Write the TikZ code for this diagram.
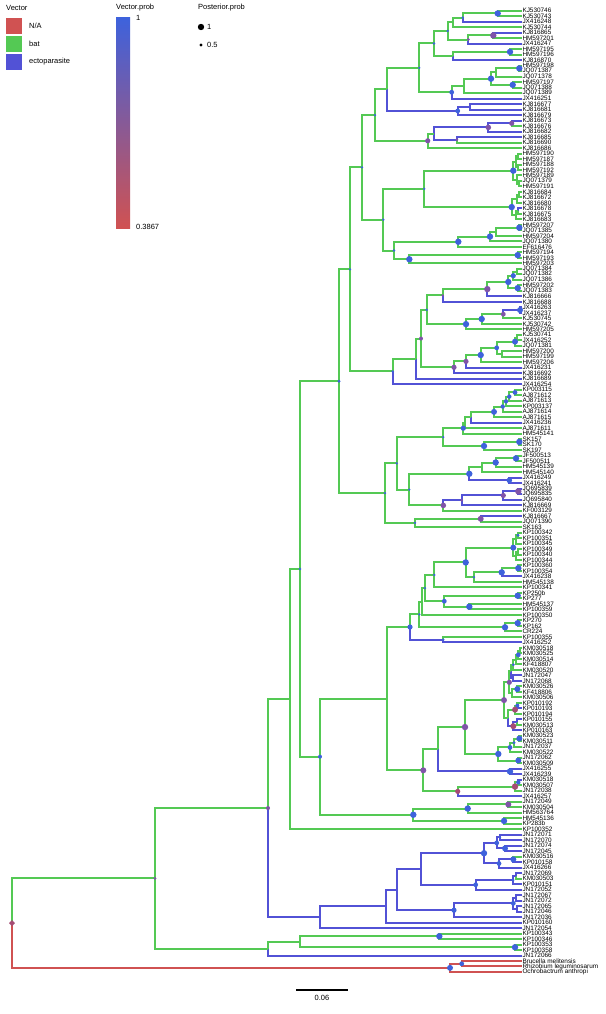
\documentclass[tikz,border=0pt]{standalone}
\usepackage{fontspec}
\setmainfont{Liberation Sans}
\usetikzlibrary{calc,shapes.geometric}
\definecolor{batcol}{RGB}{84,201,84}
\definecolor{ectocol}{RGB}{82,82,214}
\definecolor{nacol}{RGB}{208,82,82}
\definecolor{pblue}{RGB}{62,98,220}
\definecolor{ppurple}{RGB}{128,84,168}
\definecolor{pred}{RGB}{165,76,116}
\newcommand\tn[4]{\path let \p1=(#3), \p2=(#4) in coordinate (#1) at (#2pt,{0.5*\y1+0.5*\y2});}
\tikzset{
  br/.style={line width=2pt},
  bat/.style={br, draw=batcol},
  ecto/.style={br, draw=ectocol},
  na/.style={br, draw=nacol},
  leaf/.style={anchor=west, inner sep=0.6pt, font=\fontsize{6.4}{6.4}\selectfont},
  lg/.style={anchor=west, inner sep=0pt, font=\fontsize{7.5}{8}\selectfont}
}
\begin{document}
\begin{tikzpicture}[x=1pt,y=-1pt]
\useasboundingbox (0,0) rectangle (605,1014);
\fill[white] (0,0) rectangle (605,1014);
\foreach \t [count=\i] in {KJ530746,KJ530743,JX416248,KJ530744,KJ816865,HM597201,JX416247,HM597195,HM597196,KJ816870,
HM597198,JQ071387,JQ071378,HM597197,JQ071388,JQ071389,JX416251,KJ816677,KJ816681,KJ816679,
KJ816673,KJ816676,KJ816682,KJ816685,KJ816690,KJ816686,HM597190,HM597187,HM597188,HM597192,
HM597189,JQ071379,HM597191,KJ816684,KJ816672,KJ816680,KJ816678,KJ816675,KJ816683,HM597207,
JQ071385,HM597204,JQ071380,EF616476,HM597194,HM597193,HM597203,JQ071384,JQ071382,JQ071386,
HM597202,JQ071383,KJ816666,KJ816688,JX416263,JX416237,KJ530745,KJ530742,HM597205,KJ530741,
JX416252,JQ071381,HM597200,HM597199,HM597206,JX416231,KJ816692,KJ816689,JX416254,KP003115,
AJ871612,AJ871613,KP003137,AJ871614,AJ871615,JX416236,AJ871611,HM545141,SK157,SK170,
SK197,JF500513,JF500511,HM545139,HM545140,JX416249,JX416241,JQ695839,JQ695835,JQ695840,
KJ816669,KF003129,KJ816667,JQ071390,SK163,KP100342,KP100351,KP100345,KP100349,KP100340,
KP100344,KP100360,KP100354,JX416238,HM545138,KP100341,KP250b,KP277,HM545137,KP100359,
KP100350,KP270,KP162,CR224,KP100355,JX416252,KM030518,KM030525,KM030514,KF418807,
KM030520,JN172047,JN172068,KM030526,KF418806,KM030506,KP010192,KP010193,KP010194,KP010155,
KM030513,KP010163,KM030523,KM030511,JN172037,KM030522,JN172062,KM030509,JX416255,JX416239,
KM030518,KM030507,JN172038,JX416257,JN172049,KM030504,HM563764,HM545136,KP283b,KP100352,
JN172071,JN172070,JN172074,JN172045,KM030516,KP010158,JX416266,JN172069,KM030503,KP010151,
JN172052,JN172067,JN172072,JN172065,JN172046,JN172036,KP010160,JN172054,KP100343,KP100346,
KP100353,KP100358,JN172066,Brucella melitensis,Rhizobium leguminosarum,Ochrobactrum anthropi}
  \node[leaf] (L\i) at (521.7,{10.7+(\i-1)*5.493}) {\t};
\tn{a1}{497.7}{L1}{L2}
\tn{a2}{462.7}{a1}{L3}
\tn{a3}{453.3}{a2}{L4}
\tn{a4}{493.3}{L5}{L6}
\tn{a5}{468.3}{a4}{L7}
\tn{a6}{447.7}{a3}{a5}
\tn{a7}{510}{L8}{L9}
\tn{a8}{453.3}{a7}{L10}
\tn{a9}{434}{a6}{a8}
\tn{a10}{519.3}{L11}{L12}
\tn{a11}{496}{a10}{L13}
\tn{a12}{512.7}{L14}{L15}
\tn{a13}{491}{a11}{a12}
\tn{a14}{464.3}{a13}{L16}
\tn{a15}{451.7}{a14}{L17}
\tn{a16}{419.3}{a9}{a15}
\tn{a17}{470}{L18}{L19}
\tn{a18}{457.7}{a17}{L20}
\tn{a19}{387}{a16}{a18}
\tn{b1}{511.7}{L21}{L22}
\tn{b2}{488.3}{b1}{L23}
\tn{b3}{456.7}{L24}{L25}
\tn{b4}{434.3}{b2}{b3}
\tn{b5}{427.7}{b4}{L26}
\tn{c1}{518}{L27}{L28}
\tn{c2}{518}{L29}{L30}
\tn{c3}{516}{c1}{c2}
\tn{c4}{519}{L32}{L33}
\tn{c5}{516.5}{L31}{c4}
\tn{c6}{513.3}{c3}{c5}
\tn{c7}{519}{L34}{L35}
\tn{c8}{517}{c7}{L36}
\tn{c9}{518}{L37}{L38}
\tn{c10}{516}{c9}{L39}
\tn{c11}{511.7}{c8}{c10}
\tn{c12}{424.3}{c6}{c11}
\tn{c13}{519.3}{L40}{L41}
\tn{c14}{496}{c13}{L42}
\tn{c15}{490}{c14}{L43}
\tn{c16}{458.3}{c15}{L44}
\tn{c17}{517.7}{L45}{L46}
\tn{c18}{409.3}{c17}{L47}
\tn{c19}{394}{c16}{c18}
\tn{c20}{383.3}{c12}{c19}
\tn{d1}{517}{L48}{L49}
\tn{d2}{513.3}{d1}{L50}
\tn{d3}{517.7}{L51}{L52}
\tn{d4}{508.3}{d2}{d3}
\tn{d5}{487.3}{d4}{L53}
\tn{d6}{442.7}{d5}{L54}
\tn{d7}{520}{L55}{L56}
\tn{d8}{503.3}{d7}{L57}
\tn{d9}{481.7}{d8}{L58}
\tn{d10}{466}{d9}{L59}
\tn{d11}{426.7}{d6}{d10}
\tn{d12}{517}{L60}{L61}
\tn{d13}{515}{d12}{L62}
\tn{d14}{501.7}{L63}{L64}
\tn{d15}{496.7}{d13}{d14}
\tn{d16}{480.7}{d15}{L65}
\tn{d17}{466}{d16}{L66}
\tn{d18}{454}{d17}{L67}
\tn{d19}{421}{d11}{d18}
\tn{d20}{416}{d19}{L68}
\tn{d21}{392.7}{d20}{L69}
\tn{e1}{515}{L70}{L71}
\tn{e2}{509.3}{e1}{L72}
\tn{e3}{506}{e2}{L73}
\tn{e4}{502.7}{e3}{L74}
\tn{e5}{494}{e4}{L75}
\tn{e6}{470.7}{e5}{L76}
\tn{e7}{465}{e6}{L77}
\tn{e8}{463.3}{e7}{L78}
\tn{e9}{519.3}{L79}{L80}
\tn{e10}{484}{e9}{L81}
\tn{e11}{443.3}{e8}{e10}
\tn{e12}{516}{L82}{L83}
\tn{e13}{495.7}{e12}{L84}
\tn{e14}{481.7}{e13}{L85}
\tn{e15}{509.3}{L86}{L87}
\tn{e16}{469.3}{e14}{e15}
\tn{e17}{518.3}{L88}{L89}
\tn{e18}{503.3}{e17}{L90}
\tn{e19}{461.7}{e18}{L91}
\tn{e20}{443.3}{e19}{L92}
\tn{e21}{409.3}{e16}{e20}
\tn{e22}{396.7}{e11}{e21}
\tn{e23}{480.7}{L93}{L94}
\tn{e24}{415}{e23}{L95}
\tn{e25}{385}{e22}{e24}
\tn{f1}{518}{L96}{L97}
\tn{f2}{515.5}{f1}{L98}
\tn{f3}{518}{L99}{L100}
\tn{f4}{515.5}{f3}{L101}
\tn{f5}{513.3}{f2}{f4}
\tn{f6}{518.3}{L102}{L103}
\tn{f7}{501.7}{f6}{L104}
\tn{f8}{474}{f7}{L105}
\tn{f9}{465.7}{f5}{f8}
\tn{f10}{434.3}{f9}{L106}
\tn{f11}{517.7}{L107}{L108}
\tn{f12}{469.3}{L109}{L110}
\tn{f13}{444.3}{f11}{f12}
\tn{f14}{425}{f10}{f13}
\tn{f15}{421.5}{f14}{L111}
\tn{f16}{517.7}{L112}{L113}
\tn{f17}{505}{f16}{L114}
\tn{f18}{419.3}{f15}{f17}
\tn{f19}{443.3}{L115}{L116}
\tn{f20}{410}{f18}{f19}
\tn{g1}{520}{L117}{L118}
\tn{g2}{518.3}{g1}{L119}
\tn{g3}{516}{g2}{L120}
\tn{g4}{513.3}{g3}{L121}
\tn{g5}{513.3}{L122}{L123}
\tn{g6}{511}{g4}{g5}
\tn{g7}{517.3}{L124}{L125}
\tn{g8}{512}{g7}{L126}
\tn{g9}{509.3}{g6}{g8}
\tn{g10}{517.3}{L127}{L128}
\tn{g11}{515}{g10}{L129}
\tn{g12}{517}{L130}{L131}
\tn{g13}{513.3}{g12}{L132}
\tn{g14}{508.3}{g11}{g13}
\tn{g15}{504}{g9}{g14}
\tn{g16}{519.3}{L133}{L134}
\tn{g17}{514}{g16}{L135}
\tn{g18}{510}{g17}{L136}
\tn{g19}{518.3}{L137}{L138}
\tn{g20}{498.3}{g18}{g19}
\tn{g21}{465}{g15}{g20}
\tn{g22}{510}{L139}{L140}
\tn{g23}{438.3}{g21}{g22}
\tn{g24}{518.3}{L141}{L142}
\tn{g25}{515}{g24}{L143}
\tn{g26}{457.7}{g25}{L144}
\tn{g27}{423.3}{g23}{g26}
\tn{g28}{386.7}{f20}{g27}
\tn{h1}{508.3}{L145}{L146}
\tn{h2}{467.7}{h1}{L147}
\tn{h3}{504}{L148}{L149}
\tn{h4}{413.3}{h2}{h3}
\tn{i1}{500}{L151}{L152}
\tn{i2}{505}{L153}{L154}
\tn{i3}{496.7}{i1}{i2}
\tn{i4}{513.3}{L155}{L156}
\tn{i5}{499}{i4}{L157}
\tn{i6}{484}{i3}{i5}
\tn{i7}{516}{L158}{L159}
\tn{i8}{513}{i7}{L160}
\tn{i9}{475.7}{i8}{L161}
\tn{i10}{421}{i6}{i9}
\tn{i11}{516}{L162}{L163}
\tn{i12}{517}{L164}{L165}
\tn{i13}{513.3}{i11}{i12}
\tn{i14}{454}{i13}{L166}
\tn{i15}{397.3}{i10}{i14}
\tn{i16}{386}{i15}{L167}
\tn{j1}{439.3}{L169}{L170}
\tn{j2}{515}{L171}{L172}
\tn{k1}{461.7}{L174}{L175}
\tn{k2}{450}{k1}{L176}
\tn{s1}{375}{a19}{b5}
\tn{s2}{362}{s1}{c20}
\tn{s3}{350}{s2}{d21}
\tn{s4}{339}{s3}{e25}
\tn{s5}{320}{g28}{h4}
\tn{s6}{300}{s4}{s5}
\tn{s7}{290}{s6}{L150}
\tn{s8}{320}{i16}{L168}
\tn{s9}{268}{s7}{s8}
\tn{s10}{300}{j1}{j2}
\tn{s12}{268}{s10}{L173}
\tn{s11}{155}{s9}{s12}
\tn{root}{12}{s11}{k2}
\foreach \p/\c/\s in {a1/L1/bat,a1/L2/bat,a2/a1/bat,a2/L3/ecto,a3/a2/bat,a3/L4/bat,a4/L5/ecto,a4/L6/bat,
  a5/a4/bat,a5/L7/ecto,a6/a3/bat,a6/a5/bat,a7/L8/bat,a7/L9/bat,a8/a7/bat,a8/L10/ecto,a9/a6/bat,a9/a8/bat,
  a10/L11/bat,a10/L12/bat,a11/a10/bat,a11/L13/bat,a12/L14/bat,a12/L15/bat,a13/a11/bat,a13/a12/bat,
  a14/a13/bat,a14/L16/bat,a15/a14/bat,a15/L17/ecto,a16/a9/bat,a16/a15/bat,a17/L18/ecto,a17/L19/ecto,
  a18/a17/ecto,a18/L20/ecto,a19/a16/bat,a19/a18/ecto,
  b1/L21/ecto,b1/L22/bat,b2/b1/ecto,b2/L23/ecto,b3/L24/ecto,b3/L25/bat,b4/b2/ecto,b4/b3/ecto,b5/b4/bat,b5/L26/bat,
  c1/L27/bat,c1/L28/bat,c2/L29/bat,c2/L30/bat,c3/c1/bat,c3/c2/bat,c4/L32/bat,c4/L33/bat,c5/L31/bat,c5/c4/bat,
  c6/c3/bat,c6/c5/bat,c7/L34/bat,c7/L35/bat,c8/c7/bat,c8/L36/bat,c9/L37/ecto,c9/L38/bat,c10/c9/bat,c10/L39/bat,
  c11/c8/bat,c11/c10/bat,c12/c6/bat,c12/c11/bat,c13/L40/bat,c13/L41/bat,c14/c13/bat,c14/L42/bat,c15/c14/bat,
  c15/L43/bat,c16/c15/bat,c16/L44/bat,c17/L45/bat,c17/L46/bat,c18/c17/bat,c18/L47/bat,c19/c16/bat,c19/c18/bat,
  c20/c12/bat,c20/c19/bat,
  d1/L48/bat,d1/L49/bat,d2/d1/bat,d2/L50/bat,d3/L51/bat,d3/L52/bat,d4/d2/bat,d4/d3/bat,d5/d4/bat,d5/L53/ecto,
  d6/d5/bat,d6/L54/ecto,d7/L55/ecto,d7/L56/ecto,d8/d7/ecto,d8/L57/bat,d9/d8/bat,d9/L58/bat,d10/d9/bat,
  d10/L59/bat,d11/d6/bat,d11/d10/bat,d12/L60/bat,d12/L61/bat,d13/d12/bat,d13/L62/bat,d14/L63/bat,d14/L64/bat,
  d15/d13/bat,d15/d14/bat,d16/d15/bat,d16/L65/bat,d17/d16/bat,d17/L66/ecto,d18/d17/bat,d18/L67/ecto,
  d19/d11/bat,d19/d18/bat,d20/d19/bat,d20/L68/ecto,d21/d20/bat,d21/L69/ecto,
  e1/L70/bat,e1/L71/bat,e2/e1/bat,e2/L72/bat,e3/e2/bat,e3/L73/bat,e4/e3/bat,e4/L74/bat,e5/e4/bat,e5/L75/bat,
  e6/e5/bat,e6/L76/ecto,e7/e6/bat,e7/L77/bat,e8/e7/bat,e8/L78/bat,e9/L79/bat,e9/L80/bat,e10/e9/bat,e10/L81/bat,
  e11/e8/bat,e11/e10/bat,e12/L82/bat,e12/L83/bat,e13/e12/bat,e13/L84/bat,e14/e13/bat,e14/L85/bat,
  e15/L86/ecto,e15/L87/ecto,e16/e14/bat,e16/e15/ecto,e17/L88/ecto,e17/L89/ecto,e18/e17/ecto,e18/L90/ecto,
  e19/e18/ecto,e19/L91/ecto,e20/e19/ecto,e20/L92/bat,e21/e16/bat,e21/e20/bat,e22/e11/bat,e22/e21/bat,
  e23/L93/ecto,e23/L94/bat,e24/e23/bat,e24/L95/bat,e25/e22/bat,e25/e24/bat,
  f1/L96/bat,f1/L97/bat,f2/f1/bat,f2/L98/bat,f3/L99/bat,f3/L100/bat,f4/f3/bat,f4/L101/bat,f5/f2/bat,f5/f4/bat,
  f6/L102/bat,f6/L103/bat,f7/f6/bat,f7/L104/ecto,f8/f7/bat,f8/L105/bat,f9/f5/bat,f9/f8/bat,f10/f9/bat,
  f10/L106/bat,f11/L107/bat,f11/L108/bat,f12/L109/bat,f12/L110/bat,f13/f11/bat,f13/f12/bat,f14/f10/bat,
  f14/f13/bat,f15/f14/bat,f15/L111/bat,f16/L112/bat,f16/L113/bat,f17/f16/bat,f17/L114/bat,f18/f15/bat,
  f18/f17/bat,f19/L115/bat,f19/L116/ecto,f20/f18/bat,f20/f19/ecto,
  g1/L117/bat,g1/L118/bat,g2/g1/bat,g2/L119/bat,g3/g2/bat,g3/L120/bat,g4/g3/bat,g4/L121/bat,g5/L122/ecto,
  g5/L123/ecto,g6/g4/bat,g6/g5/ecto,g7/L124/bat,g7/L125/bat,g8/g7/bat,g8/L126/bat,g9/g6/bat,g9/g8/bat,
  g10/L127/bat,g10/L128/ecto,g11/g10/bat,g11/L129/bat,g12/L130/ecto,g12/L131/bat,g13/g12/ecto,g13/L132/ecto,
  g14/g11/bat,g14/g13/ecto,g15/g9/bat,g15/g14/bat,g16/L133/bat,g16/L134/bat,g17/g16/bat,g17/L135/bat,
  g18/g17/bat,g18/L136/bat,g19/L137/bat,g19/L138/bat,g20/g18/bat,g20/g19/bat,g21/g15/bat,g21/g20/bat,
  g22/L139/ecto,g22/L140/ecto,g23/g21/bat,g23/g22/ecto,g24/L141/ecto,g24/L142/bat,g25/g24/bat,g25/L143/bat,
  g26/g25/bat,g26/L144/ecto,g27/g23/bat,g27/g26/bat,g28/f20/bat,g28/g27/bat,
  h1/L145/bat,h1/L146/bat,h2/h1/bat,h2/L147/bat,h3/L148/bat,h3/L149/bat,h4/h2/bat,h4/h3/bat,
  i1/L151/ecto,i1/L152/ecto,i2/L153/ecto,i2/L154/ecto,i3/i1/ecto,i3/i2/ecto,i4/L155/bat,i4/L156/ecto,
  i5/i4/ecto,i5/L157/ecto,i6/i3/ecto,i6/i5/ecto,i7/L158/ecto,i7/L159/bat,i8/i7/ecto,i8/L160/ecto,i9/i8/ecto,
  i9/L161/ecto,i10/i6/ecto,i10/i9/ecto,i11/L162/ecto,i11/L163/ecto,i12/L164/ecto,i12/L165/ecto,i13/i11/ecto,
  i13/i12/ecto,i14/i13/ecto,i14/L166/ecto,i15/i10/ecto,i15/i14/ecto,i16/i15/ecto,i16/L167/ecto,
  j1/L169/bat,j1/L170/bat,j2/L171/bat,j2/L172/bat,k1/L174/na,k1/L175/na,k2/k1/na,k2/L176/na,
  s1/a19/bat,s1/b5/bat,s2/s1/bat,s2/c20/bat,s3/s2/bat,s3/d21/bat,s4/s3/bat,s4/e25/bat,s5/g28/bat,s5/h4/bat,
  s6/s4/bat,s6/s5/bat,s7/s6/bat,s7/L150/bat,s8/i16/ecto,s8/L168/ecto,s9/s7/bat,s9/s8/ecto,s10/j1/bat,
  s10/j2/bat,s12/s10/bat,s12/L173/ecto,s11/s9/bat,s11/s12/bat,root/s11/bat,root/k2/na}
  \draw[\s] (\p) |- (\c);
\foreach \n/\r/\c in {a1/3.2/pblue,a2/1.3/pblue,a4/3.2/ppurple,a5/1.5/ppurple,a6/1.3/pblue,a7/3.2/pblue,
  a9/1.3/pblue,a10/3.2/pblue,a12/3.2/pblue,a13/3.2/pblue,a15/2.4/pblue,a16/1.3/pblue,a18/2.4/pblue,
  b1/2.6/ppurple,b2/2.8/ppurple,b3/1.6/ppurple,b5/2.6/ppurple,c6/3.2/pblue,c11/3.2/pblue,c12/1.3/pblue,
  c13/3.2/pblue,c15/3.2/pblue,c16/3.2/pblue,c17/3.2/pblue,c18/3.2/pblue,c19/1.3/pblue,c20/1.3/pblue,
  d2/2.6/pblue,d3/3.2/pblue,d4/3.2/pblue,d5/3.2/ppurple,d6/1.3/ppurple,d7/3/pblue,d8/2.4/ppurple,
  d9/3.2/pblue,d10/3.2/pblue,d11/1.3/pblue,d13/3/pblue,d15/2.4/pblue,d16/3.2/pblue,d17/2.6/ppurple,
  d18/2.6/ppurple,d19/2/ppurple,d21/1.3/pblue,e1/2.4/pblue,e2/2.2/pblue,e3/2.2/pblue,e4/2.2/pblue,
  e5/3/pblue,e8/2.6/pblue,e9/3.2/pblue,e10/3.2/pblue,e11/1.3/pblue,e12/3.2/pblue,e13/3.2/pblue,
  e15/2.8/pblue,e16/3.2/pblue,e17/3.2/ppurple,e18/2.6/ppurple,e19/1.5/ppurple,e20/2.8/ppurple,
  e21/1.3/pblue,e22/1.3/pblue,e23/3/ppurple,e24/1.3/pblue,e25/1.3/pblue,f1/1.6/pblue,f5/3/pblue,
  f6/3.2/pblue,f7/3.2/pblue,f8/1.3/pblue,f9/3.2/pblue,f10/1.3/pblue,f11/3.2/pblue,f12/3.2/pblue,
  f13/2.4/pblue,f14/1.3/pblue,f16/3.2/pblue,f17/3.2/pblue,f18/1.3/pblue,f19/1.3/pblue,f20/2.6/pblue,
  g2/2.4/pblue,g4/1.5/pblue,g9/2.6/ppurple,g7/3/pblue,g10/2/pblue,g11/3/pred,g13/3/pred,g15/3/ppurple,
  g16/3/pblue,g17/1.6/pblue,g18/2.4/pblue,g19/3/pblue,g20/3.2/pblue,g21/3.2/ppurple,g22/3.2/pblue,
  g24/2.2/pblue,g25/3.2/pred,g26/2.6/pred,g27/3/ppurple,h1/3/ppurple,h2/3.2/pblue,h3/3.2/pblue,
  h4/3.2/pblue,i1/1.3/pblue,i2/3/pblue,i3/2.4/pblue,i4/3/pblue,i5/2.4/pblue,i6/3.2/pblue,i8/1.6/pblue,
  i9/2.4/pblue,i13/2.4/pblue,i14/2.6/pblue,j1/3.2/pblue,j2/3.2/pblue,k1/2.4/pblue,k2/3/pblue,
  s1/1.3/pblue,s2/1.3/pblue,s3/1.3/pblue,s4/1.6/pblue,s5/2/pblue,s6/1.3/pblue,s9/2/ppurple,s11/1.6/ppurple}
  \fill[\c] (\n) circle (\r);
\node[diamond, fill=pred, inner sep=0pt, minimum size=6pt] (rootmark) at (root) {};
\node[lg] (vtitle) at (6,8) {Vector};
\fill[nacol] (6,18) rectangle (22,34);
\fill[batcol] (6,36) rectangle (22,52);
\fill[ectocol] (6,54) rectangle (22,70);
\node[lg] (vna) at (29,26) {N/A};
\node[lg] (vbat) at (29,44) {bat};
\node[lg] (vecto) at (29,62) {ectoparasite};
\node[lg] (ptitle) at (116,8) {Vector.prob};
\shade[top color=pblue, bottom color=nacol] (116,18) rectangle (130,228);
\node[lg] (pmax) at (136,18) {1};
\node[lg] (pmin) at (136,227) {0.3867};
\node[lg] (qtitle) at (198,8) {Posterior.prob};
\fill[black] (201,27) circle (3.2);
\fill[black] (201,45) circle (1.6);
\node[lg] (qbig) at (207,27) {1};
\node[lg] (qsmall) at (207,45) {0.5};
\coordinate (sbl) at (296,990);
\coordinate (sbr) at (348,990);
\draw[line width=1.4pt] (sbl) -- (sbr);
\node[lg, anchor=north] (sblabel) at ($(sbl)!0.5!(sbr)+(0,5)$) {0.06};
\end{tikzpicture}
\end{document}
